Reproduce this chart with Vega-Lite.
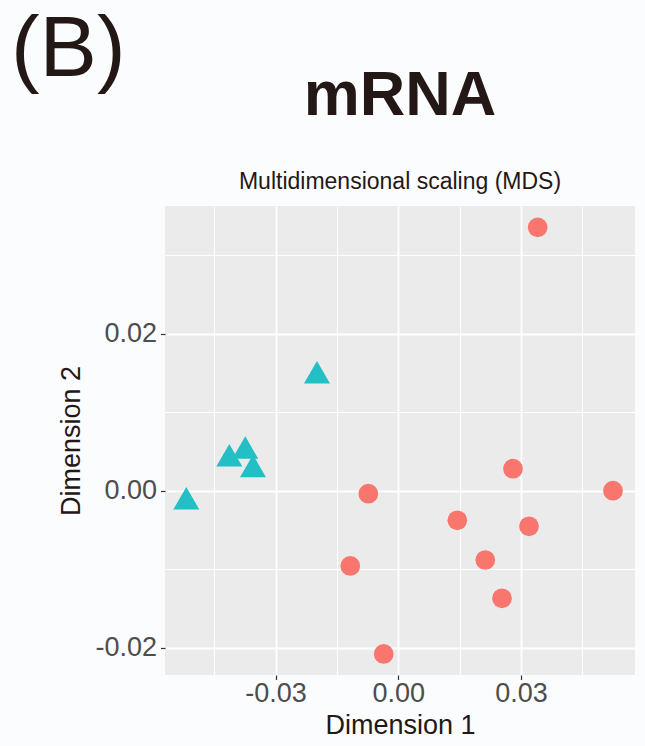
{
  "$schema": "https://vega.github.io/schema/vega-lite/v6.json",
  "background": "#fbfcfe",
  "padding": {"left": 10, "top": 6, "right": 15, "bottom": 30},
  "title": {
    "text": "(B)",
    "anchor": "start",
    "frame": "bounds",
    "font": "Liberation Sans",
    "fontSize": 86,
    "fontWeight": "normal",
    "color": "#231815",
    "dx": -47,
    "offset": -28.7
  },
  "config": {
    "font": "Liberation Sans",
    "view": {"fill": "#ebebeb", "stroke": null}
  },
  "vconcat": [
    {
      "width": 470,
      "height": 469,
      "title": {
        "text": "mRNA",
        "subtitle": "Multidimensional scaling (MDS)",
        "anchor": "middle",
        "font": "Liberation Sans",
        "fontSize": 63,
        "fontWeight": "bold",
        "color": "#231815",
        "subtitleFont": "Liberation Sans",
        "subtitleFontSize": 23,
        "subtitleColor": "#231815",
        "subtitlePadding": 43,
        "offset": 12
      },
      "data": {
        "values": [
          {"dim1": 0.03408, "dim2": 0.03355, "group": "Group 1"},
          {"dim1": 0.02804, "dim2": 0.00280, "group": "Group 1"},
          {"dim1": -0.00733, "dim2": -0.00038, "group": "Group 1"},
          {"dim1": 0.01443, "dim2": -0.00377, "group": "Group 1"},
          {"dim1": 0.03196, "dim2": -0.00454, "group": "Group 1"},
          {"dim1": 0.05249, "dim2": 0.0, "group": "Group 1"},
          {"dim1": -0.01174, "dim2": -0.00959, "group": "Group 1"},
          {"dim1": 0.02127, "dim2": -0.00883, "group": "Group 1"},
          {"dim1": 0.02535, "dim2": -0.01371, "group": "Group 1"},
          {"dim1": -0.00357, "dim2": -0.02080, "group": "Group 1"},
          {"dim1": -0.01988, "dim2": 0.01460, "group": "Group 2"},
          {"dim1": -0.04132, "dim2": 0.00404, "group": "Group 2"},
          {"dim1": -0.03741, "dim2": 0.00501, "group": "Group 2"},
          {"dim1": -0.03553, "dim2": 0.00266, "group": "Group 2"},
          {"dim1": -0.05183, "dim2": -0.00143, "group": "Group 2"}
        ]
      },
      "mark": {"type": "point", "filled": true, "opacity": 1, "strokeWidth": 0},
      "encoding": {
        "x": {
          "field": "dim1",
          "type": "quantitative",
          "scale": {"domain": [-0.05704, 0.05787], "nice": false, "zero": false},
          "axis": {
            "values": [-0.045, -0.03, -0.015, 0, 0.015, 0.03, 0.045],
            "labelExpr": "datum.value == -0.03 ? '-0.03' : datum.value == 0 ? '0.00' : datum.value == 0.03 ? '0.03' : ''",
            "labelOverlap": false,
            "labelFlush": false,
            "labelFontSize": 27,
            "labelColor": "#4d4d4d",
            "labelPadding": 1,
            "tickColor": "#333333",
            "tickWidth": 1.2,
            "tickSize": 4.5,
            "tickOpacity": {"condition": {"test": "datum.value == -0.03 || datum.value == 0 || datum.value == 0.03", "value": 1}, "value": 0},
            "domain": false,
            "gridColor": "#ffffff",
            "gridWidth": {"condition": {"test": "datum.value == -0.03 || datum.value == 0 || datum.value == 0.03", "value": 1.8}, "value": 1.1},
            "title": "Dimension 1",
            "titleFontSize": 27,
            "titleFontWeight": "normal",
            "titleColor": "#231815",
            "titlePadding": 6
          }
        },
        "y": {
          "field": "dim2",
          "type": "quantitative",
          "scale": {"domain": [-0.02348, 0.03627], "nice": false, "zero": false},
          "axis": {
            "values": [-0.02, -0.01, 0, 0.01, 0.02, 0.03],
            "labelExpr": "datum.value == -0.02 ? '-0.02' : datum.value == 0 ? '0.00' : datum.value == 0.02 ? '0.02' : ''",
            "labelOverlap": false,
            "labelFlush": false,
            "labelFontSize": 27,
            "labelColor": "#4d4d4d",
            "labelPadding": 4,
            "tickColor": "#333333",
            "tickWidth": 1.2,
            "tickSize": 4.5,
            "tickOpacity": {"condition": {"test": "datum.value == -0.02 || datum.value == 0 || datum.value == 0.02", "value": 1}, "value": 0},
            "domain": false,
            "gridColor": "#ffffff",
            "gridWidth": {"condition": {"test": "datum.value == -0.02 || datum.value == 0 || datum.value == 0.02", "value": 1.8}, "value": 1.1},
            "title": "Dimension 2",
            "titleFontSize": 27,
            "titleFontWeight": "normal",
            "titleColor": "#231815",
            "titlePadding": 9
          }
        },
        "color": {
          "field": "group",
          "type": "nominal",
          "scale": {"domain": ["Group 1", "Group 2"], "range": ["#f8766d", "#22bfc4"]},
          "legend": null
        },
        "shape": {
          "field": "group",
          "type": "nominal",
          "scale": {"domain": ["Group 1", "Group 2"], "range": ["circle", "M-1,0.577L1,0.577L0,-1.155Z"]},
          "legend": null
        },
        "size": {
          "field": "group",
          "type": "nominal",
          "scale": {"domain": ["Group 1", "Group 2"], "range": [388, 676]},
          "legend": null
        }
      }
    }
  ]
}
